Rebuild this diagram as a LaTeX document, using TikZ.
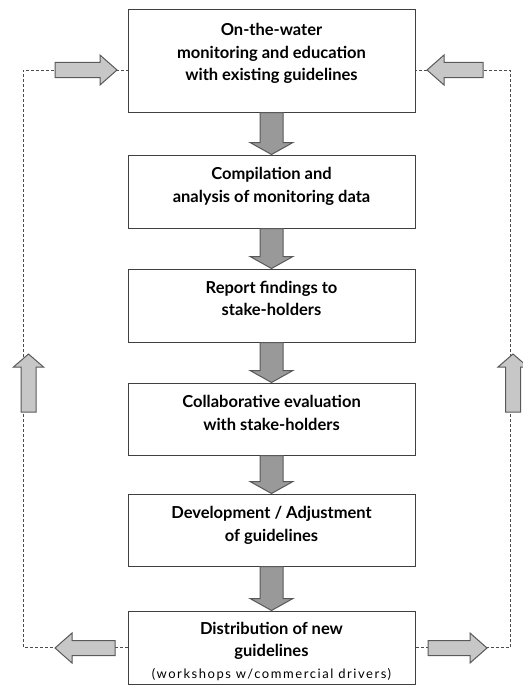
\documentclass[tikz,border=0pt]{standalone}
\usepackage{fontspec}
\setmainfont{Lato}
\usetikzlibrary{calc}

\tikzset{
  stepbox/.style={draw=black!75, line width=1pt, fill=white, minimum width=287pt,
    align=center, inner sep=2pt, font=\bfseries\fontsize{16.5}{22.5}\selectfont},
  loopline/.style={black!70, line width=0.8pt, dash pattern=on 3pt off 2pt},
  dnarrow/.style={draw=black!65, fill=black!40, line width=1pt},
  sidearrow/.style={draw=black!65, fill=black!22, line width=1pt}
}

% block arrow: [style]{from}{to}{half shaft}{half head}{head length}
\newcommand\blockarrow[6][]{%
  \coordinate (hb) at ($(#3)!#6!(#2)$);
  \draw[#1] ($(#2)!#4!90:(#3)$) -- ($(hb)!#4!90:(#3)$) -- ($(hb)!#5!90:(#3)$)
    -- (#3) -- ($(hb)!#5!-90:(#3)$) -- ($(hb)!#4!-90:(#3)$)
    -- ($(#2)!#4!-90:(#3)$) -- cycle;
}

\begin{document}
\begin{tikzpicture}[x=1pt,y=-1pt]
\useasboundingbox (0,0) rectangle (522,685);

% steps
\node[stepbox, minimum height=102pt] (b1) at (271.5,61)
  {On-the-water\\monitoring and education\\with existing guidelines\\[-4.5pt]\mbox{}};
\node[stepbox, minimum height=73pt] (b2) at (271.5,191.5)
  {Compilation and\\analysis of monitoring data\\[-9.5pt]\mbox{}};
\node[stepbox, minimum height=73pt] (b3) at (271.5,305.5)
  {Report findings to\\stake-holders\\[-8.5pt]\mbox{}};
\node[stepbox, minimum height=72pt] (b4) at (271.5,419)
  {Collaborative evaluation\\with stake-holders\\[-10.5pt]\mbox{}};
\node[stepbox, minimum height=72pt] (b5) at (271.5,530)
  {Development / Adjustment\\of guidelines\\[-10.5pt]\mbox{}};
\node[stepbox, minimum height=73pt] (b6) at (271.5,647.5)
  {\mbox{}\\[-3pt]Distribution of new\\guidelines\\[-1pt]{\mdseries\fontsize{13}{14}\selectfont\addfontfeature{LetterSpace=12}(workshops w/commercial drivers)}};

% feedback loops
\coordinate (lft) at (23,360);
\coordinate (rgt) at (510,360);
\draw[loopline] (b6.west) -| (lft) |- ([yshift=-9pt]b1.west);
\draw[loopline] (b6.east) -| (rgt) |- ([yshift=-9pt]b1.east);

% down arrows
\blockarrow[dnarrow]{b1.south}{b2.north}{11.5pt}{21.5pt}{12pt}
\blockarrow[dnarrow]{b2.south}{b3.north}{11.5pt}{21.5pt}{12pt}
\blockarrow[dnarrow]{b3.south}{b4.north}{11.5pt}{21.5pt}{12pt}
\blockarrow[dnarrow]{b4.south}{b5.north}{11.5pt}{21.5pt}{12pt}
\blockarrow[dnarrow]{b5.south}{b6.north}{11.5pt}{21.5pt}{12pt}

% side arrows
\coordinate (tl0) at (55,70);   \coordinate (tl1) at (117,70);
\coordinate (tr0) at (483,70);  \coordinate (tr1) at (427,70);
\coordinate (bl0) at (115,648); \coordinate (bl1) at (55,648);
\coordinate (br0) at (428,648); \coordinate (br1) at (487,648);
\coordinate (vl0) at (28.5,412); \coordinate (vl1) at (28.5,354);
\coordinate (vr0) at (513,412);  \coordinate (vr1) at (513,354);
\blockarrow[sidearrow]{tl0}{tl1}{7.5pt}{15pt}{17pt}
\blockarrow[sidearrow]{tr0}{tr1}{7.5pt}{15pt}{17pt}
\blockarrow[sidearrow]{bl0}{bl1}{7.5pt}{15pt}{17pt}
\blockarrow[sidearrow]{br0}{br1}{7.5pt}{15pt}{17pt}
\blockarrow[sidearrow]{vl0}{vl1}{7.5pt}{15pt}{13pt}
\blockarrow[sidearrow]{vr0}{vr1}{7.5pt}{15pt}{13pt}
\end{tikzpicture}
\end{document}
